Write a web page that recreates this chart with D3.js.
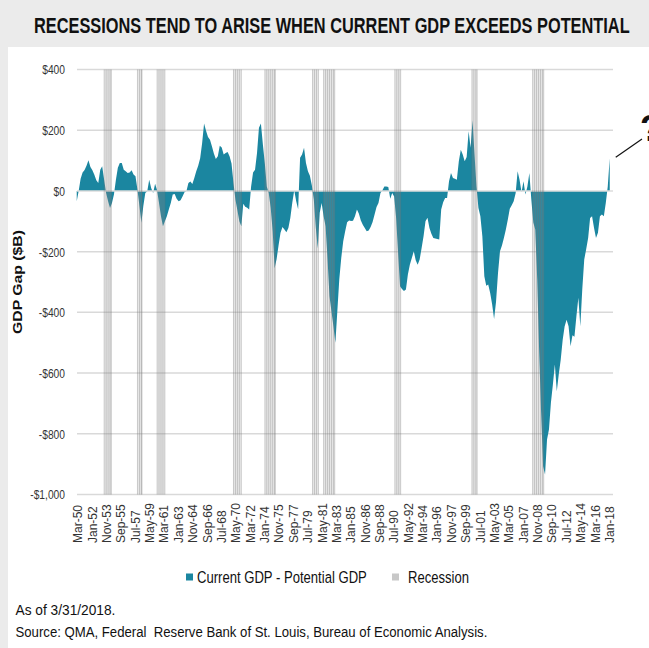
<!DOCTYPE html>
<html><head><meta charset="utf-8">
<script src="https://cdn.jsdelivr.net/npm/d3@7"></script>
<style>html,body{margin:0;padding:0;background:#ebebeb;}svg{display:block;}</style>
</head><body>
<script>
// ---------- data ----------
const firstYear = 1950;
// quarterly GDP gap (Current GDP - Potential GDP), $B, Q1 1950 .. Q1 2018
const gapValues = [
 -34, 0, 40, 61,   69, 83, 101, 79,   68, 53, 35, 26,   70, 81, 37, -7,
 -34, -56, -40, -12,   37, 76, 92, 92,   70, 65, 59, 61,   68, 54, 48, 4,
 -50, -105, -50, -7,   -1, 37, 10, -7,   24, 2, -40, -83,   -116, -100, -83, -61,
 -40, -12, -10, -26,   -34, -31, -18, -4,   0, 26, 31, 23,   43, 65, 83, 108,
 158, 222, 198, 178,   169, 147, 123, 105,   114, 149, 143, 120,   125, 128, 114, 90,
 26, -29, -64, -100,   -116, -42, -52, -55,   -61, 15, 61, 70,   125, 208, 222, 153,
 90, 15, -7, -56,   -133, -255, -225, -180,   -138, -119, -127, -136,   -122, -89, -40, 2,
 -34, -60, 109, 120,   142, 92, 65, 50,   18, -29, -120, -190,   -72, -40, -83, -116,
 -226, -347, -396, -446,   -500, -396, -292, -221,   -166, -133, -103, -97,   -99, -98, -83, -61,
 -75, -97, -111, -122,   -133, -130, -119, -102,   -78, -53, -40, -7,   2, 15, 15, 13,
 -26, -7, -18, -89,   -204, -314, -323, -330,   -325, -275, -243, -221,   -199, -228, -243, -226,
 -188, -149, -100, -88,   -122, -141, -155, -157,   -158, -160, -61, -37,   -23, -23, 32, 59,
 43, 40, 37, 98,   136, 120, 98, 112,   197, 142, 233, 120,   15, -56, -83, -149,
 -281, -312, -308, -336,   -374, -422, -365, -270,   -199, -180, -155, -127,   -94, -59, -47, -34,
 -7, 65, 37, -4,   32, -12, 15, 59,   -29, -104, -127, -292,   -534, -731, -907, -934,
 -819, -786, -698, -638,   -572, -660, -605, -556,   -490, -446, -424, -446,   -512, -475, -480, -413,
 -352, -446, -325, -226,   -191, -155, -89, -83,   -122, -155, -138, -83,   -78, -83, -40, 15,
 108
];
const recessionStart = ["1953-07","1957-10","1960-04","1970-01","1974-01","1980-02","1981-07","1990-08","2000-06","2008-03"];
const recessionEnd   = ["1954-06","1958-05","1961-04","1971-01","1975-05","1980-11","1982-12","1991-05","2001-02","2009-08"];
const xTickLabels = ["Mar-50","Jan-52","Nov-53","Sep-55","Jul-57","May-59","Mar-61","Jan-63","Nov-64","Sep-66",
 "Jul-68","May-70","Mar-72","Jan-74","Nov-75","Sep-77","Jul-79","May-81","Mar-83","Jan-85","Nov-86","Sep-88",
 "Jul-90","May-92","Mar-94","Jan-96","Nov-97","Sep-99","Jul-01","May-03","Mar-05","Jan-07","Nov-08","Sep-10",
 "Jul-12","May-14","Mar-16","Jan-18"];
const yTicks = [400, 200, 0, -200, -400, -600, -800, -1000];
const titleText = "RECESSIONS TEND TO ARISE WHEN CURRENT GDP EXCEEDS POTENTIAL";
const seriesName = "Current GDP - Potential GDP";
const recessionName = "Recession";
const note1 = "As of 3/31/2018.";
const note2 = "Source: QMA, Federal\u00A0\u00A0Reserve Bank of St. Louis, Bureau of Economic Analysis.";

// ---------- setup ----------
const W = 649, H = 648;
const teal = "#1b86a0";
const svg = d3.select("body").append("svg").attr("width", W).attr("height", H)
  .style("font-family", "'Liberation Sans', Arial, sans-serif");
svg.append("rect").attr("width", W).attr("height", H).attr("fill", "#ebebeb");
svg.append("rect").attr("x", 8).attr("y", 47).attr("width", W - 8).attr("height", H - 47).attr("fill", "#fff");

// helper: text squeezed horizontally to a target width via group scaling
function fitText(sel, str, x0, yBase, size, weight, target, anchor) {
  const g = sel.append("g");
  const t = g.append("text").attr("font-size", size).attr("font-weight", weight || "normal")
    .attr("fill", "#111").attr("text-anchor", anchor || "start").text(str);
  const len = t.node().getComputedTextLength();
  const sx = target / len;
  g.attr("transform", `translate(${x0},${yBase}) scale(${sx},1)`);
  return t;
}

const data = gapValues.map((v, i) => ({ date: new Date(firstYear + Math.floor(i / 4), (i % 4) * 3, 1), value: v }));
const x = d3.scaleTime().domain([new Date(1950, 2, 1), new Date(2018, 2, 1)]).range([78, 611]);
const y = d3.scaleLinear().domain([-1000, 400]).range([494.5, 69.5]);
const plotL = 77, plotR = 613;

// gridlines
svg.append("g").selectAll("line").data(yTicks.filter(d => d !== 0)).join("line")
  .attr("x1", plotL).attr("x2", plotR).attr("y1", d => y(d)).attr("y2", d => y(d))
  .attr("stroke", "#d9d9d9").attr("stroke-width", 1.5);

// area
const area = d3.area().x(d => x(d.date)).y0(y(0)).y1(d => y(d.value));
svg.append("path").datum(data).attr("d", area).attr("fill", teal);

// zero axis line over area
svg.append("line").attr("x1", plotL).attr("x2", plotR).attr("y1", y(0)).attr("y2", y(0))
  .attr("stroke", "#dcdcdc").attr("stroke-width", 1.5);

// recession bands
const pm = d3.timeParse("%Y-%m");
const rec = recessionStart.map((s, i) => ({ s: pm(s), e: pm(recessionEnd[i]) }));
const rg = svg.append("g");
rec.forEach(r => {
  rg.append("rect").attr("x", x(r.s)).attr("width", x(r.e) - x(r.s)).attr("y", y(400)).attr("height", y(-1000) - y(400))
    .attr("fill", "rgba(150,150,150,0.22)");
  const marks = d3.timeMonth.range(r.s, r.e, 3).concat([r.e]);
  rg.selectAll(null).data(marks).join("line")
    .attr("x1", d => x(d)).attr("x2", d => x(d)).attr("y1", y(400)).attr("y2", y(-1000))
    .attr("stroke", "rgba(110,110,110,0.35)").attr("stroke-width", 0.9);
});

// y labels (condensed)
svg.append("g").selectAll("g").data(yTicks).join("g")
  .attr("transform", d => `translate(65,${y(d)}) scale(0.76,1)`)
  .append("text").attr("text-anchor", "end").attr("dy", "0.36em").attr("font-size", 13.5).attr("fill", "#333")
  .text(d => (d < 0 ? "-$" : "$") + d3.format(",")(Math.abs(d)));

// y axis title
svg.append("text").attr("transform", `translate(22,${(y(400)+y(-1000))/2}) rotate(-90)`)
  .attr("text-anchor", "middle").attr("font-size", 13).attr("font-weight", "bold").attr("fill", "#111")
  .attr("textLength", 104).attr("lengthAdjust", "spacingAndGlyphs").text("GDP Gap ($B)");

// x labels (rotated, aligned at their bottom)
const pt = d3.timeParse("%b-%y");
svg.append("g").selectAll("g").data(xTickLabels).join("g")
  .attr("transform", d => { let dt = pt(d); if (dt.getFullYear() > 2020) dt.setFullYear(dt.getFullYear() - 100);
    return `translate(${x(dt)},543) rotate(-90)`; })
  .append("text").attr("text-anchor", "start").attr("dy", "0.35em").attr("font-size", 12).attr("fill", "#333")
  .text(d => d);

// title
fitText(svg, titleText, 34, 33, 22, "bold", 596);

// legend
svg.append("rect").attr("x", 186).attr("y", 573.5).attr("width", 7).attr("height", 7).attr("fill", teal);
fitText(svg, seriesName, 197, 583, 16.5, "normal", 170);
svg.append("rect").attr("x", 392).attr("y", 573.5).attr("width", 7).attr("height", 7).attr("fill", "#c8c8c8");
fitText(svg, recessionName, 408, 583, 16.5, "normal", 61);

// notes
fitText(svg, note1, 15.5, 614.5, 15.5, "normal", 100);
fitText(svg, note2, 15.5, 637, 15.5, "normal", 472);

// annotation "?"
const last = data[data.length - 1];
svg.append("line").attr("x1", x(last.date) + 6).attr("y1", y(last.value) - 1).attr("x2", 642).attr("y2", 139)
  .attr("stroke", "#111").attr("stroke-width", 1.2);
svg.append("text").attr("x", 640).attr("y", 141).attr("font-size", 36).attr("font-weight", "bold").attr("fill", "#111").text("?");
</script>
</body></html>
